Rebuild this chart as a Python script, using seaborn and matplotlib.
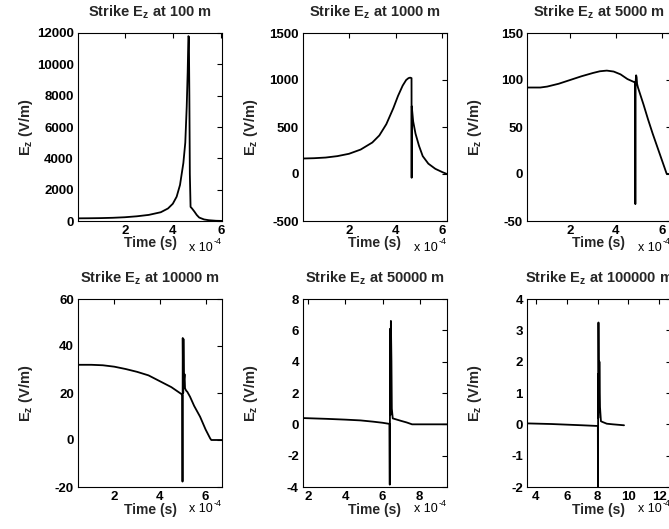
import matplotlib
matplotlib.use("Agg")
import matplotlib.pyplot as plt
import seaborn as sns
import pandas as pd

# ---------------- data (time in units of 1e-4 s, E_z in V/m) ----------------
distances = ["100", "1000", "5000", "10000", "50000", "100000"]

t_100 = [0.05, 0.5, 1.0, 1.5, 2.0, 2.5, 3.0, 3.5, 3.8, 4.0, 4.16, 4.3, 4.44, 4.52, 4.58,
         4.62, 4.65, 4.67, 4.69, 4.71, 4.74, 4.8, 4.9, 5.0, 5.1, 5.3, 5.5, 5.8, 6.05]
e_100 = [170, 175, 185, 205, 240, 300, 390, 560, 800, 1100, 1550, 2300, 3700, 5000, 7300,
         9500, 11800, 11750, 8000, 3000, 900, 800, 600, 380, 220, 100, 50, 15, 5]

t_1000 = [0.05, 0.5, 1.0, 1.5, 2.0, 2.5, 3.0, 3.3, 3.6, 3.9, 4.1, 4.3, 4.45, 4.55, 4.62,
          4.68, 4.685, 4.69, 4.75, 4.85, 5.0, 5.16, 5.4, 5.7, 6.0, 6.2]
e_1000 = [165, 168, 175, 190, 215, 260, 335, 410, 530, 700, 830, 940, 1000, 1020, 1025,
          1020, -40, 720, 560, 430, 300, 190, 110, 55, 20, 0]

t_5000 = [0.12, 0.7, 1.0, 1.5, 2.0, 2.5, 3.0, 3.3, 3.6, 3.9, 4.2, 4.5, 4.82, 4.84, 4.845,
          4.85, 4.88, 4.9, 4.92, 4.96, 5.0, 5.2, 5.4, 5.6, 5.8, 6.0, 6.2, 6.22, 6.4]
e_5000 = [92, 92, 93, 96, 100, 104, 107.5, 109.3, 110, 109, 106, 101, 97.5, 96, -32,
          96, 105, 103, 96, 92, 89, 74, 58, 43, 29, 15, 1, 0, 0]

t_10000 = [0.41, 1.0, 1.5, 2.0, 2.5, 3.0, 3.5, 4.0, 4.5, 4.95, 4.98, 4.99, 5.0, 5.02,
           5.03, 5.05, 5.08, 5.1, 5.15, 5.2, 5.32, 5.5, 5.76, 6.0, 6.2, 6.25, 6.75]
e_10000 = [32, 32, 31.8, 31.2, 30.2, 29, 27.5, 25, 22.5, 19.5, 19.3, -17.7, 43.4, 20,
           43, 25, 28, 22, 21, 20.5, 18.4, 14.5, 9.9, 4.5, 0.7, 0, 0]

t_50000 = [1.72, 3.0, 4.0, 4.82, 5.5, 6.0, 6.37, 6.39, 6.41, 6.43, 6.45, 6.48, 6.5,
           6.55, 7.0, 7.3, 7.59, 8.5, 9.47]
e_50000 = [0.4, 0.35, 0.3, 0.25, 0.17, 0.1, 0.03, -3.85, 6.1, 0.6, 6.6, 4.0, 1.0,
           0.38, 0.22, 0.12, 0.0, 0.0, 0.0]

t_100000 = [3.42, 5.0, 6.0, 7.0, 7.9, 8.02, 8.03, 8.04, 8.05, 8.06, 8.09, 8.12, 8.16,
            8.22, 8.3, 8.6, 9.0, 9.72]
e_100000 = [0.03, 0.01, -0.01, -0.03, -0.05, -0.05, -2.3, 1.6, 0.2, 3.25, 0.4, 2.0, 0.55,
            0.1, 0.08, 0.02, 0.0, -0.03]

series = [(t_100, e_100), (t_1000, e_1000), (t_5000, e_5000),
          (t_10000, e_10000), (t_50000, e_50000), (t_100000, e_100000)]

xlims = [(0.05, 6.05), (0.03, 6.2), (0.12, 6.4), (0.41, 6.72), (1.72, 9.47), (3.42, 12.77)]
ylims = [(0, 12000), (-500, 1500), (-50, 150), (-20, 60), (-4, 8), (-2, 4)]
xticks = [[2, 4, 6], [2, 4, 6], [2, 4, 6], [2, 4, 6], [2, 4, 6, 8], [4, 6, 8, 10, 12]]
yticks = [list(range(0, 12001, 2000)), list(range(-500, 1501, 500)),
          list(range(-50, 151, 50)), list(range(-20, 61, 20)),
          list(range(-4, 9, 2)), list(range(-2, 5, 1))]

# ---------------- style ----------------
sns.set_style("white")
plt.rcParams["font.family"] = ["Liberation Sans", "DejaVu Sans"]
plt.rcParams["mathtext.fontset"] = "custom"
plt.rcParams["mathtext.rm"] = "Liberation Sans:bold"
plt.rcParams["mathtext.it"] = "Liberation Sans:bold"
plt.rcParams["mathtext.bf"] = "Liberation Sans:bold"

W, H = 669, 529
fig = plt.figure(figsize=(W / 100, H / 100), dpi=100)
fig.patch.set_facecolor("white")

lefts = [78, 303, 527]
tops = [33, 299]
aw, ah = 144, 188
FS = 9.5

for i, (d, (t, e)) in enumerate(zip(distances, series)):
    r, c = divmod(i, 3)
    l, tp = lefts[c], tops[r]
    ax = fig.add_axes([l / W, 1 - (tp + ah) / H, aw / W, ah / H])
    df = pd.DataFrame({"t": t, "E": e})
    sns.lineplot(data=df, x="t", y="E", ax=ax, color="black", lw=1.3,
                 estimator=None, sort=False, legend=False)
    ax.set_xlim(*xlims[i])
    ax.set_ylim(*ylims[i])
    ax.set_xticks(xticks[i])
    ax.set_yticks(yticks[i])
    ax.set_xticklabels([str(v) for v in xticks[i]])
    ax.set_yticklabels([str(v) for v in yticks[i]])
    ax.tick_params(direction="in", top=True, right=True, length=3.5, width=0.8,
                   labelsize=FS, pad=3.0, colors="black")
    for lab in ax.get_xticklabels() + ax.get_yticklabels():
        lab.set_fontweight("bold")
    for s in ax.spines.values():
        s.set_visible(True)
        s.set_color("black")
        s.set_linewidth(0.8)
    ax.set_title("Strike E$_{z}$ at " + d + " m", fontsize=10.5,
                 fontweight="bold", pad=12)
    ax.set_xlabel("Time (s)", fontsize=10, fontweight="bold")
    ax.set_ylabel("E$_{z}$ (V/m)", fontsize=10.5, fontweight="bold")
    ax.xaxis.set_label_coords(0.5, -0.08 if r == 0 else -0.085)
    ax.yaxis.set_label_coords(-0.30, 0.5)
    # MATLAB-style exponent label
    yb = tp + ah
    dy = 27 if r == 0 else 22
    fig.text((l + 111) / W, 1 - (yb + dy) / H, "x 10", fontsize=9,
             ha="left", va="center", color="black")
    fig.text((l + 136) / W, 1 - (yb + dy - 6) / H, "-4", fontsize=6.5,
             ha="left", va="center", color="black")

fig.savefig("out.png", dpi=100, facecolor="white")
